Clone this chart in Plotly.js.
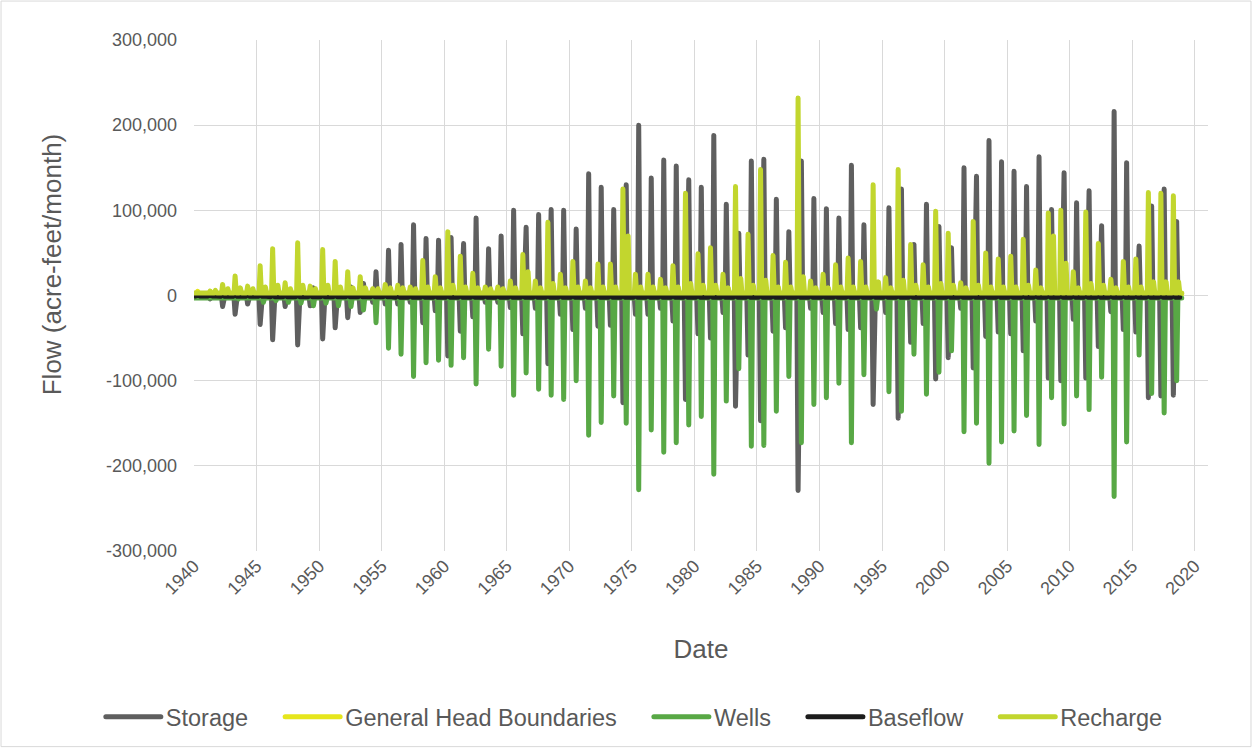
<!DOCTYPE html>
<html><head><meta charset="utf-8">
<script src="https://cdn.plot.ly/plotly-3.0.1.min.js"></script>
<style>
html,body{margin:0;padding:0;background:#fff;}
#chart{width:1253px;height:750px;}
.scatterlayer path.js-line{stroke-linecap:round;stroke-linejoin:round;}
.legendlines path{stroke-linecap:round;}
</style></head><body><div id="chart"></div>
<script>
// Water years shown
const years = [1940,1941,1942,1943,1944,1945,1946,1947,1948,1949,
1950,1951,1952,1953,1954,1955,1956,1957,1958,1959,
1960,1961,1962,1963,1964,1965,1966,1967,1968,1969,
1970,1971,1972,1973,1974,1975,1976,1977,1978,1979,
1980,1981,1982,1983,1984,1985,1986,1987,1988,1989,
1990,1991,1992,1993,1994,1995,1996,1997,1998,1999,
2000,2001,2002,2003,2004,2005,2006,2007,2008,2009,
2010,2011,2012,2013,2014,2015,2016,2017,2018];

// Storage: summer peak (out of storage) per year, acre-feet/month
const storagePeak = [1000,2000,2000,3000,4000,6000,5000,6000,6000,9000,
7000,9000,10000,14000,28000,53000,60000,83000,67000,65000,
68000,61000,91000,55000,70000,100000,80000,95000,101000,100000,
78000,143000,127000,101000,130000,200000,138000,159000,152000,136000,
127000,188000,107000,73000,158000,160000,113000,75000,158000,114000,
102000,91000,153000,83000,12000,103000,125000,60000,107000,81000,
56000,150000,140000,182000,157000,146000,128000,163000,101000,144000,
109000,123000,82000,216000,156000,58000,105000,125000,87000];

// Storage: spring trough (into storage) per year
const storageTrough = [-2000,-4000,-13000,-22000,-10000,-34000,-52000,-13000,-58000,-12000,
-51000,-38000,-26000,-20000,-8000,-10000,-10000,-8000,-32000,-18000,
-71000,-42000,-25000,-8000,-8000,-14000,-45000,-15000,-80000,-22000,
-40000,-15000,-36000,-35000,-126000,-22000,-22000,-15000,-30000,-122000,
-45000,-50000,-20000,-130000,-70000,-147000,-42000,-38000,-229000,-15000,
-20000,-33000,-40000,-38000,-128000,-20000,-144000,-55000,-33000,-98000,
-73000,-15000,-85000,-48000,-43000,-45000,-65000,-30000,-97000,-100000,
-28000,-97000,-60000,-19000,-40000,-43000,-120000,-118000,-117000];

// Wells: summer pumping per year
const wellsPeak = [-1000,-2000,-3000,-4000,-4000,-8000,-6000,-8000,-9000,-12000,
-9000,-12000,-13000,-17000,-32000,-62000,-69000,-95000,-79000,-76000,
-82000,-73000,-104000,-63000,-83000,-117000,-91000,-110000,-117000,-122000,
-100000,-164000,-149000,-118000,-150000,-228000,-158000,-184000,-173000,-152000,
-142000,-210000,-124000,-86000,-177000,-176000,-136000,-95000,-173000,-128000,
-120000,-103000,-173000,-93000,-16000,-113000,-136000,-69000,-116000,-90000,
-65000,-160000,-150000,-197000,-172000,-159000,-141000,-175000,-120000,-151000,
-118000,-134000,-96000,-236000,-172000,-70000,-115000,-138000,-100000];

// Recharge: spring peak per year
const rechargePeak = [3000,5000,13000,23000,11000,35000,55000,15000,62000,11000,
54000,40000,28000,22000,8000,13000,12000,10000,41000,22000,
75000,46000,26000,10000,10000,17000,48000,17000,86000,25000,
40000,17000,37000,37000,125000,25000,25000,19000,35000,120000,
49000,56000,25000,128000,72000,148000,47000,39000,232000,17000,
25000,36000,44000,40000,130000,21000,148000,60000,36000,99000,
73000,15000,87000,50000,43000,46000,66000,30000,97000,100000,
28000,98000,61000,19000,40000,43000,121000,120000,117000];

// Recharge: secondary (late-season) peak per year
const rechargeSecond = [4000,6000,8000,9000,8000,10000,12000,8000,12000,8000,
12000,10000,9000,9000,8000,9000,9000,8000,10000,9000,
12000,10000,9000,8000,8000,9000,28000,9000,14000,9000,
10000,9000,10000,10000,70000,10000,10000,9000,10000,14000,
12000,12000,9000,20000,12000,18000,10000,10000,22000,9000,
9000,10000,10000,10000,16000,9000,18000,12000,10000,14000,
12000,9000,12000,10000,10000,10000,12000,9000,70000,38000,
9000,14000,12000,9000,10000,10000,16000,16000,16000];

// General Head Boundaries: small spring peak per year
const ghbPeak = [5000,5000,6000,6000,5000,6000,6000,5000,6000,5000,
6000,6000,5000,5000,5000,5000,5000,5000,6000,5000,
6000,6000,5000,5000,5000,5000,6000,5000,6000,5000,
6000,5000,6000,6000,7000,6000,6000,5000,6000,7000,
6000,6000,5000,7000,6000,7000,6000,6000,8000,5000,
5000,6000,6000,6000,7000,5000,7000,6000,6000,7000,
6000,5000,6000,6000,6000,6000,6000,5000,7000,7000,
5000,6000,6000,5000,6000,6000,7000,7000,7000];

// Baseflow: summer value per year
const baseflowSummer = [-500,-500,-1000,-1000,-1000,-1000,-1500,-1500,-1500,-1500,
-1500,-1500,-1500,-1500,-1500,-1500,-2000,-2000,-2000,-2000,
-2000,-2000,-2000,-2000,-2000,-2000,-2000,-2000,-2000,-2000,
-2000,-2000,-2000,-2000,-2000,-2000,-2000,-2000,-2000,-2000,
-2000,-2000,-2000,-2000,-2000,-2000,-2000,-2000,-2000,-2000,
-2000,-2000,-2000,-2000,-2000,-2000,-2000,-2000,-2000,-2000,
-2000,-2000,-2000,-2000,-2000,-2000,-2000,-2000,-2000,-2000,
-2000,-2000,-2000,-2000,-2000,-2000,-2000,-2000,-2000];

const wellsOffPeak = -3000;
const rechargeOffPeak = 3000;
const ghbOffPeak = 2000;
const baseflowSpring = 1000;

// Axis tick labels
const yTickVals = [-300000,-200000,-100000,0,100000,200000,300000];
const yTickText = ['-300,000','-200,000','-100,000','0','100,000','200,000','300,000'];

function dt(y, m, d) { return y + '-' + String(m).padStart(2,'0') + '-' + String(d).padStart(2,'0'); }

const S = {x:[], y:[]}, W = {x:[], y:[]}, R = {x:[], y:[]}, G = {x:[], y:[]}, B = {x:[], y:[]};
years.forEach((yr, i) => {
  S.x.push(dt(yr,1,15), dt(yr,3,10), dt(yr,4,15), dt(yr,5,20), dt(yr,6,20), dt(yr,7,20), dt(yr,8,25), dt(yr,11,15));
  S.y.push(0, 0, storageTrough[i], 0, 0, storagePeak[i], 0, 0);
  W.x.push(dt(yr,1,15), dt(yr,6,20), dt(yr,7,20), dt(yr,8,25), dt(yr,12,15));
  W.y.push(wellsOffPeak, wellsOffPeak, wellsPeak[i], wellsOffPeak, wellsOffPeak);
  R.x.push(dt(yr,1,15), dt(yr,3,15), dt(yr,4,15), dt(yr,5,20), dt(yr,8,15), dt(yr,9,15), dt(yr,10,20), dt(yr,12,15));
  R.y.push(rechargeOffPeak, rechargeOffPeak, rechargePeak[i], rechargeOffPeak, rechargeOffPeak, rechargeSecond[i], rechargeOffPeak, rechargeOffPeak);
  G.x.push(dt(yr,1,15), dt(yr,3,15), dt(yr,4,15), dt(yr,5,15), dt(yr,12,15));
  G.y.push(ghbOffPeak, ghbOffPeak, ghbPeak[i], ghbOffPeak, ghbOffPeak);
  B.x.push(dt(yr,2,15), dt(yr,4,15), dt(yr,6,15), dt(yr,10,15));
  B.y.push(baseflowSummer[i], baseflowSpring, baseflowSummer[i], baseflowSummer[i]);
});

const LW = 5;
const traces = [
  {name:'Storage', x:S.x, y:S.y, type:'scatter', mode:'lines', line:{color:'#5f5f5f', width:LW}},
  {name:'General Head Boundaries', x:G.x, y:G.y, type:'scatter', mode:'lines', line:{color:'#e6e61c', width:LW}},
  {name:'Wells', x:W.x, y:W.y, type:'scatter', mode:'lines', line:{color:'#58a845', width:LW}},
  {name:'Baseflow', x:B.x, y:B.y, type:'scatter', mode:'lines', line:{color:'#1c1c1c', width:LW}},
  {name:'Recharge', x:R.x, y:R.y, type:'scatter', mode:'lines', line:{color:'#c2d62e', width:LW}}
];

const txt = '#595959';
const layout = {
  width:1253, height:750,
  margin:{l:194, r:45, t:40, b:198},
  paper_bgcolor:'#ffffff', plot_bgcolor:'#ffffff',
  font:{family:'Liberation Sans, Arial, sans-serif', color:txt, size:18},
  showlegend:true,
  legend:{orientation:'h', x:0.434, xanchor:'center', y:-0.322, yanchor:'middle',
          font:{size:23.5, color:txt}, itemwidth:55, traceorder:'normal'},
  xaxis:{type:'date', range:['1940-01-01','2021-01-20'], tick0:'1940-01-01', dtick:'M60',
         tickformat:'%Y', tickangle:-45, showgrid:true, gridcolor:'#d9d9d9', gridwidth:1,
         zeroline:false, showline:false, ticks:'', tickfont:{size:18, color:txt},
         title:{text:'Date', font:{size:26, color:txt}, standoff:42}},
  yaxis:{range:[-300000,300000], tickvals:yTickVals, ticktext:yTickText, showgrid:true, gridcolor:'#d9d9d9',
         gridwidth:1, zeroline:false, showline:false, ticks:'', tickfont:{size:18, color:txt},
         ticklabelstandoff:16,
         title:{text:'Flow (acre-feet/month)', font:{size:26, color:txt}, standoff:36}},
  shapes:[{type:'rect', xref:'paper', yref:'paper', x0:-0.1903, x1:1.0424, y0:-0.3828, y1:1.0762,
           line:{color:'#d9d9d9', width:1}, fillcolor:'rgba(0,0,0,0)', layer:'below'}],
  hovermode:false
};

Plotly.newPlot('chart', traces, layout, {displayModeBar:false, staticPlot:true}).then(gd => {
  // Spread legend entries like the reference (line 55px, gap 5px, spacing 37px), centred at x=634
  const legend = gd.querySelector('.legend');
  if (!legend) return;
  const sb = legend.querySelector('.scrollbox');
  if (sb) sb.removeAttribute('clip-path');
  const m = /translate\(([-\d.]+)[ ,]+([-\d.]+)\)/.exec(legend.getAttribute('transform') || '');
  const lx = m ? parseFloat(m[1]) : 0;
  const items = Array.from(legend.querySelectorAll('.traces'));
  const lineLen = 55, textGap = 5, itemGap = 37;
  const widths = items.map(it => it.querySelector('text.legendtext').getComputedTextLength());
  const total = widths.reduce((a, w) => a + lineLen + textGap + w, 0) + itemGap * (items.length - 1);
  let cur = 634 - total / 2;
  items.forEach((it, i) => {
    const tm = /translate\(([-\d.]+)[ ,]+([-\d.]+)\)/.exec(it.getAttribute('transform') || '');
    const iy = tm ? parseFloat(tm[2]) : 0;
    it.setAttribute('transform', 'translate(' + (cur - lx) + ',' + iy + ')');
    const p = it.querySelector('.legendlines path');
    if (p) p.setAttribute('d', 'M0,0h' + lineLen);
    const t = it.querySelector('text.legendtext');
    t.setAttribute('x', lineLen + textGap);
    cur += lineLen + textGap + widths[i] + itemGap;
  });
  // Move the y-axis title up to match the reference placement
  const yt = gd.querySelector('.g-ytitle text');
  if (yt) {
    const x = parseFloat(yt.getAttribute('x')), y = parseFloat(yt.getAttribute('y')) - 31;
    yt.setAttribute('y', y);
    yt.setAttribute('transform', 'rotate(-90,' + x + ',' + y + ')');
  }
});
</script></body></html>
